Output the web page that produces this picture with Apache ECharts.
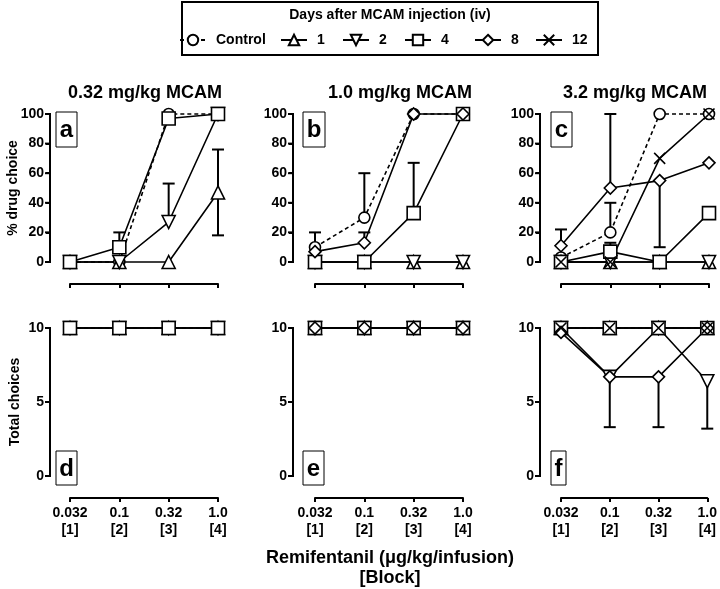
<!DOCTYPE html>
<html><head><meta charset="utf-8">
<script src="https://cdn.jsdelivr.net/npm/echarts@6.0.0/dist/echarts.min.js"></script>
<style>html,body{margin:0;padding:0;background:#fff}#c{width:720px;height:589px}</style>
</head><body><div id="c"></div>
<script>
// ---- tick labels / categories ----
const doseLabels = ['0.032\n[1]', '0.1\n[2]', '0.32\n[3]', '1.0\n[4]'];
const seriesNames = ['Control', '1', '2', '4', '8', '12'];
const panelTitles = ['0.32 mg/kg MCAM', '1.0 mg/kg MCAM', '3.2 mg/kg MCAM'];
const panelLetters = ['a', 'b', 'c', 'd', 'e', 'f'];
const upperTicks = [0, 20, 40, 60, 80, 100];
const lowerTicks = [0, 5, 10];

// ---- Panel a: 0.32 mg/kg, % drug choice ----
const a_control = [0, 0, 100, 100];
const a_day1 = [0, 0, 0, 47];
const a_day2 = [0, 0, 27, 100];
const a_day4 = [0, 10, 97, 100];
const a_err = [[1, 10, 20], [2, 27, 53], [3, 47, 76], [3, 47, 18]];

// ---- Panel b: 1.0 mg/kg, % drug choice ----
const b_control = [10, 30, 100, 100];
const b_day1 = [0, 0, 0, 0];
const b_day2 = [0, 0, 0, 0];
const b_day4 = [0, 0, 33, 100];
const b_day8 = [7, 13, 100, 100];
const b_err = [[0, 10, 20], [1, 30, 60], [1, 13, 20], [2, 33, 67]];

// ---- Panel c: 3.2 mg/kg, % drug choice ----
const c_control = [3, 20, 100, 100];
const c_day1 = [0, 0, 0, 0];
const c_day2 = [0, 0, 0, 0];
const c_day4 = [0, 7, 0, 33];
const c_day8 = [11, 50, 55, 67];
const c_day12 = [0, 0, 70, 100];
const c_err = [[0, 11, 22], [1, 20, 40], [1, 50, 100], [1, 7, 13], [2, 55, 10]];

// ---- Panel d: 0.32 mg/kg, total choices ----
const d_control = [10, 10, 10, 10];
const d_day1 = [10, 10, 10, 10];
const d_day2 = [10, 10, 10, 10];
const d_day4 = [10, 10, 10, 10];

// ---- Panel e: 1.0 mg/kg, total choices ----
const e_control = [10, 10, 10, 10];
const e_day1 = [10, 10, 10, 10];
const e_day2 = [10, 10, 10, 10];
const e_day4 = [10, 10, 10, 10];
const e_day8 = [10, 10, 10, 10];

// ---- Panel f: 3.2 mg/kg, total choices ----
const f_control = [10, 10, 10, 10];
const f_day1 = [10, 10, 10, 10];
const f_day2 = [10, 6.7, 10, 6.4];
const f_day4 = [10, 10, 10, 10];
const f_day8 = [9.7, 6.7, 6.7, 10];
const f_day12 = [10, 10, 10, 10];
const f_err = [[1, 6.7, 3.3], [2, 6.7, 3.3], [3, 6.4, 3.2]];

const panelSeries = [
  [['Control', a_control], ['1', a_day1], ['2', a_day2], ['4', a_day4]],
  [['Control', b_control], ['1', b_day1], ['2', b_day2], ['4', b_day4], ['8', b_day8]],
  [['Control', c_control], ['1', c_day1], ['2', c_day2], ['4', c_day4], ['8', c_day8], ['12', c_day12]],
  [['Control', d_control], ['1', d_day1], ['2', d_day2], ['4', d_day4]],
  [['Control', e_control], ['1', e_day1], ['2', e_day2], ['4', e_day4], ['8', e_day8]],
  [['Control', f_control], ['1', f_day1], ['2', f_day2], ['4', f_day4], ['8', f_day8], ['12', f_day12]]
];
const panelErr = [a_err, b_err, c_err, [], [], f_err];

// ---- layout ----
const FF = "'Liberation Sans', Arial, Helvetica, sans-serif";
const layout = [
  {left: 70, top: 114, axisX: 50}, {left: 315, top: 114, axisX: 293}, {left: 561, top: 114, axisX: 540},
  {left: 70, top: 328, axisX: 50}, {left: 315, top: 328, axisX: 293}, {left: 561, top: 328, axisX: 540}
];
const PW = 148, PH = 148;

const symStyle = {
  'Control': {symbol: 'circle', size: 11},
  '1': {symbol: 'triangle', size: 13},
  '2': {symbol: 'path://M0,0L10,0L5,8.66Z', size: 13},
  '4': {symbol: 'rect', size: 13},
  '8': {symbol: 'diamond', size: 12},
  '12': {symbol: 'path://M0,0L10,10M10,0L0,10', size: 11}
};

const grids = [], xAxes = [], yAxes = [], series = [];
// plot grids (0-5)
layout.forEach((p, i) => {
  const lower = i >= 3;
  grids.push({left: p.left, top: p.top, width: PW, height: PH});
  xAxes.push({
    type: 'category', gridIndex: i, data: doseLabels, boundaryGap: false, offset: 22,
    axisLine: {onZero: false, lineStyle: {color: '#000', width: 2}},
    axisTick: {show: true, length: 4, lineStyle: {color: '#000', width: 2}},
    axisLabel: {show: lower, color: '#000', fontWeight: 'bold', fontSize: 14, fontFamily: FF, lineHeight: 17, margin: 7},
    splitLine: {show: false}
  });
  yAxes.push({
    type: 'value', gridIndex: i, show: false, min: 0, max: lower ? 10 : 100, interval: lower ? 5 : 20,
    splitLine: {show: false}
  });
  if (panelErr[i].length) {
    series.push({
      type: 'custom', xAxisIndex: i, yAxisIndex: i, z: 1, data: panelErr[i],
      encode: {x: 0, y: [1, 2]}, clip: false,
      renderItem: function (params, api) {
        const x = api.value(0), v1 = api.value(1), v2 = api.value(2);
        const p1 = api.coord([x, v1]), p2 = api.coord([x, v2]);
        const hw = 6;
        return {type: 'group', children: [
          {type: 'line', shape: {x1: p1[0], y1: p1[1], x2: p2[0], y2: p2[1]}, style: {stroke: '#000', lineWidth: 2}},
          {type: 'line', shape: {x1: p2[0] - hw, y1: p2[1], x2: p2[0] + hw, y2: p2[1]}, style: {stroke: '#000', lineWidth: 2}}
        ]};
      }
    });
  }
  panelSeries[i].forEach(([name, vals]) => {
    const st = symStyle[name];
    series.push({
      type: 'line', name: name, xAxisIndex: i, yAxisIndex: i, data: vals, clip: false, z: 3,
      symbol: st.symbol, symbolSize: st.size, showSymbol: true,
      lineStyle: {color: '#000', width: 1.6, type: name === 'Control' ? [4, 3] : 'solid'},
      itemStyle: {color: '#fff', borderColor: '#000', borderWidth: 1.6},
      emphasis: {disabled: true}
    });
  });
});
// axis-only grids (6-11) carrying the visible y axes
layout.forEach((p, i) => {
  const lower = i >= 3;
  const gi = 6 + i;
  const ticks = lower ? lowerTicks : upperTicks;
  const yMax = lower ? 10 : 100;
  grids.push({left: p.axisX, top: p.top, width: 10, height: PH});
  xAxes.push({type: 'value', gridIndex: gi, show: false, min: 0, max: 1});
  yAxes.push({
    type: 'value', gridIndex: gi, min: 0, max: yMax, interval: lower ? 5 : 20,
    axisLine: {show: true, onZero: false, lineStyle: {color: '#000', width: 2}},
    axisTick: {show: true, length: 4, lineStyle: {color: '#000', width: 2}},
    axisLabel: {color: '#000', fontWeight: 'bold', fontSize: 14, fontFamily: FF, margin: 6},
    splitLine: {show: false}
  });
  // axis line and ticks drawn through the axis scale (custom series)
  series.push({
    type: 'custom', xAxisIndex: gi, yAxisIndex: gi, z: 2, clip: false, silent: true,
    data: ticks.map(v => [0, v]), encode: {x: 0, y: 1},
    renderItem: function (params, api) {
      const pt = api.coord([0, api.value(1)]);
      const children = [
        {type: 'line', shape: {x1: pt[0] - 5, y1: pt[1], x2: pt[0], y2: pt[1]}, style: {stroke: '#000', lineWidth: 2}}
      ];
      if (params.dataIndex === 0) {
        const b = api.coord([0, 0]), t = api.coord([0, yMax]);
        children.push({type: 'line', shape: {x1: b[0], y1: b[1] + 1, x2: t[0], y2: t[1] - 1}, style: {stroke: '#000', lineWidth: 2}});
      }
      return {type: 'group', children: children};
    }
  });
});

// legend: one component per entry
const legendCenters = [192, 293, 355, 417, 487, 548];
const legends = seriesNames.map((n, i) => ({
  data: [n], left: legendCenters[i] - 13, top: 33, itemWidth: 26, itemHeight: 13, itemGap: 0,
  padding: 0, selectedMode: false,
  textStyle: {color: '#000', fontWeight: 'bold', fontSize: 14, fontFamily: FF, padding: [0, 0, 0, 5]}
}));

// graphic texts
const graphics = [];
graphics.push({type: 'rect', shape: {x: 182, y: 2, width: 416, height: 53}, style: {fill: 'none', stroke: '#000', lineWidth: 2}});
graphics.push({type: 'text', x: 390, y: 15, style: {text: 'Days after MCAM injection (iv)', font: 'bold 14px ' + FF, fill: '#000', align: 'center', verticalAlign: 'middle'}});
const titleX = [145, 400, 635];
panelTitles.forEach((t, i) => graphics.push({type: 'text', x: titleX[i], y: 93, style: {text: t, font: 'bold 18px ' + FF, fill: '#000', align: 'center', verticalAlign: 'middle'}}));
const boxes = [[56, 112, 21, 35], [303, 112, 22, 35], [551, 112, 21, 35], [56, 451, 21, 34], [303, 451, 21, 34], [551, 451, 15, 34]];
boxes.forEach((b, i) => {
  graphics.push({type: 'rect', shape: {x: b[0], y: b[1], width: b[2], height: b[3]}, style: {fill: '#fff', stroke: '#000', lineWidth: 1}});
  graphics.push({type: 'text', x: b[0] + b[2] / 2, y: b[1] + b[3] / 2 + 1, style: {text: panelLetters[i], font: 'bold 24px ' + FF, fill: '#000', align: 'center', verticalAlign: 'middle'}});
});
graphics.push({type: 'text', x: 13, y: 188, rotation: Math.PI / 2, style: {text: '% drug choice', font: 'bold 14px ' + FF, fill: '#000', align: 'center', verticalAlign: 'middle'}});
graphics.push({type: 'text', x: 15, y: 402, rotation: Math.PI / 2, style: {text: 'Total choices', font: 'bold 14px ' + FF, fill: '#000', align: 'center', verticalAlign: 'middle'}});
graphics.push({type: 'text', x: 390, y: 558, style: {text: 'Remifentanil (μg/kg/infusion)', font: 'bold 18px ' + FF, fill: '#000', align: 'center', verticalAlign: 'middle'}});
graphics.push({type: 'text', x: 390, y: 578, style: {text: '[Block]', font: 'bold 18px ' + FF, fill: '#000', align: 'center', verticalAlign: 'middle'}});

const chart = echarts.init(document.getElementById('c'), null, {renderer: 'canvas'});
chart.setOption({
  animation: false,
  backgroundColor: '#fff',
  grid: grids, xAxis: xAxes, yAxis: yAxes, series: series,
  legend: legends,
  graphic: graphics
});
</script></body></html>
